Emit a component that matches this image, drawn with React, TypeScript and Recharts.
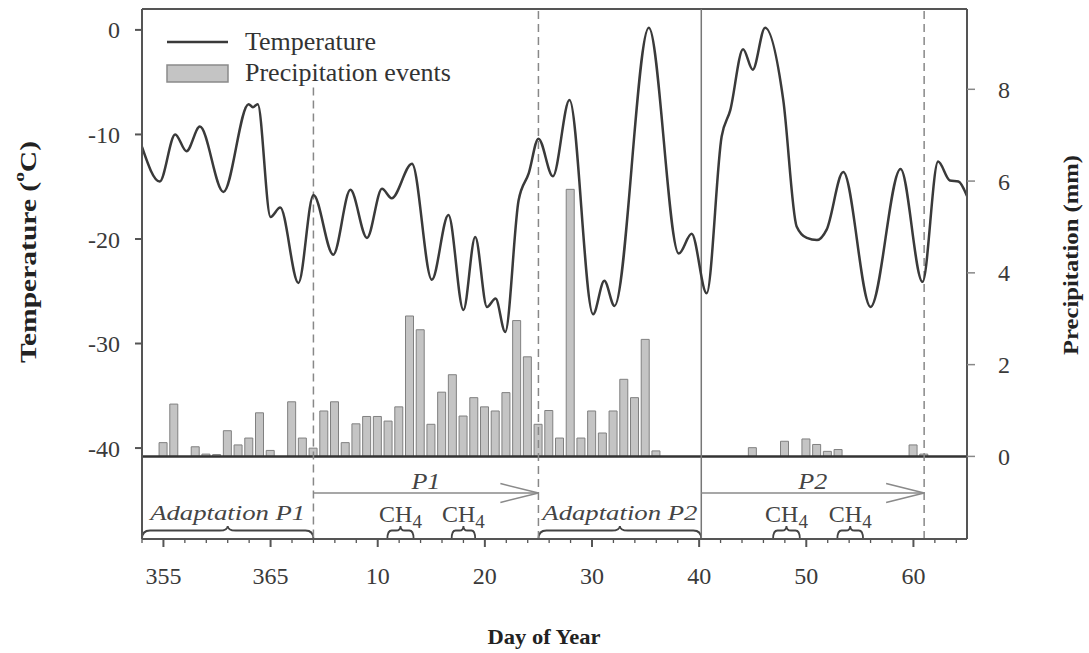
import React from "react";
import {
  ComposedChart, Bar, Line, XAxis, YAxis, Legend,
  ReferenceLine, ReferenceArea, ReferenceDot,
} from "recharts";

// day index keeps counting past 365: 366 = Jan 1, 375 = Jan 10 ...
const tempDays = [
  353.0, 354.65, 356.1, 357.15, 358.4, 360.6, 362.95, 363.35, 363.8, 365.0,
  365.9, 367.6, 369.0, 370.85, 372.45, 374.0, 375.4, 376.3, 378.2, 380.05,
  381.6, 383.0, 384.1, 385.2, 386.0, 386.9, 388.15, 389.1, 390.0, 391.35,
  392.9, 395.1, 396.15, 397.1, 400.3, 403.1, 404.3, 405.7, 407.1, 407.9,
  409.1, 410.0, 411.15, 412.85, 414.1, 415.05, 416.0, 416.9, 418.45, 421.0,
  423.8, 425.85, 427.3, 428.4, 429.2, 430.0,
];
const tempValues = [
  -11.2, -14.5, -10.0, -11.6, -9.25, -15.5, -7.1, -7.4, -7.1, -17.9,
  -17.0, -24.2, -15.8, -21.5, -15.3, -19.9, -15.2, -16.1, -12.8, -23.9,
  -17.7, -26.8, -19.8, -26.5, -25.7, -28.9, -16.3, -13.7, -10.4, -14.0,
  -6.7, -27.2, -24.0, -26.4, 0.2, -21.4, -19.5, -25.2, -10.2, -7.7,
  -1.85, -3.8, 0.2, -6.7, -18.8, -19.9, -20.1, -19.1, -13.6, -26.5,
  -13.3, -24.1, -12.6, -14.4, -14.5, -15.9,
];

const precipDays = [
  355, 356, 358, 359, 360, 361, 362, 363, 364, 365, 367, 368,
  369, 370, 371, 372, 373, 374, 375, 376, 377, 378, 379, 380,
  381, 382, 383, 384, 385, 386, 387, 388, 389, 390, 391, 392,
  393, 394, 395, 396, 397, 398, 399, 400, 401,
  410, 413, 415, 416, 417, 418, 425, 426,
];
const precipValues = [
  0.30, 1.14, 0.21, 0.05, 0.04, 0.56, 0.25, 0.40, 0.95, 0.13, 1.19, 0.40,
  0.18, 0.99, 1.19, 0.30, 0.71, 0.87, 0.87, 0.77, 1.08, 3.06, 2.76, 0.70,
  1.40, 1.78, 0.88, 1.28, 1.08, 0.99, 1.39, 2.96, 2.17, 0.70, 1.00, 0.40,
  5.82, 0.40, 0.99, 0.51, 0.99, 1.68, 1.28, 2.55, 0.12,
  0.19, 0.33, 0.38, 0.26, 0.11, 0.15, 0.25, 0.05,
];

const majorDays = [355, 365, 375, 385, 395, 405, 415, 425];
const majorLabels = ["355", "365", "10", "20", "30", "40", "50", "60"];
const minorDays = [
  353, 357, 359, 361, 363, 367, 369, 371, 373, 377, 379, 381, 383, 387, 389,
  391, 393, 397, 399, 401, 403, 407, 409, 411, 413, 417, 419, 421, 423, 427, 429,
];
const tempTicks = [-40, -30, -20, -10, 0];
const precipTicks = [0, 2, 4, 6, 8];

// experiment layout (day index)
const adaptations = [
  { label: "Adaptation P1", from: 353, to: 369 },
  { label: "Adaptation P2", from: 390, to: 405.2 },
];
const periods = [
  { label: "P1", from: 369, to: 390 },
  { label: "P2", from: 405.2, to: 426 },
];
const ch4Windows = [[375.9, 378.35], [381.9, 384.1], [411.9, 414.4], [417.9, 420.3]];

const dayDomain = [353, 430];
const tempDomain = [-48.7, 2.0];
const precipDomain = [-1.8, 9.75];

const tempData = tempDays.map((d, i) => ({ day: d, temp: tempValues[i] }));
const precipData = precipDays.map((d, i) => ({ day: d, precip: precipValues[i] }));

const SERIF = "'Liberation Serif', 'Times New Roman', serif";
const INK = "#3a3a3a";
const FRAME = "#555";

const DayTick = ({ x, y, payload }: any) => {
  const v = payload.value as number;
  const idx = majorDays.indexOf(v);
  const major = idx >= 0;
  return (
    <g>
      <line x1={x} x2={x} y1={y} y2={y + (major ? 8 : 4)} stroke={FRAME} strokeWidth={major ? 2 : 1.3} />
      {major && (
        <text x={x} y={y + 45} textAnchor="middle" fontSize={24} fill={INK} fontFamily={SERIF}>
          {majorLabels[idx]}
        </text>
      )}
    </g>
  );
};

const TempTitle = ({ viewBox }: any) => {
  const cx = (viewBox?.x ?? 0) + 28;
  const cy = 252;
  return (
    <text x={cx} y={cy} transform={`rotate(-90 ${cx} ${cy})`} textAnchor="middle" dominantBaseline="central"
      fontSize={23} fontWeight="bold" fill="#222" fontFamily={SERIF} textLength={222} lengthAdjust="spacingAndGlyphs">
      <tspan>Temperature (</tspan>
      <tspan dy={-9} fontSize={15}>o</tspan>
      <tspan dy={9}>C)</tspan>
    </text>
  );
};

const PrecipTitle = ({ viewBox }: any) => {
  const cx = (viewBox?.x ?? 967) + 103;
  const cy = 255;
  return (
    <text x={cx} y={cy} transform={`rotate(-90 ${cx} ${cy})`} textAnchor="middle" dominantBaseline="central"
      fontSize={22} fontWeight="bold" fill="#222" fontFamily={SERIF} textLength={200} lengthAdjust="spacingAndGlyphs">
      Precipitation (mm)
    </text>
  );
};

const DayTitle = ({ viewBox }: any) => (
  <text x={(viewBox?.x ?? 142) + 402} y={(viewBox?.y ?? 539) + 105} textAnchor="middle"
    fontSize={21} fontWeight="bold" fill="#222" fontFamily={SERIF} textLength={113} lengthAdjust="spacingAndGlyphs">
    Day of Year
  </text>
);

const LegendBox = ({ payload }: any) => {
  const items = [...(payload || [])].sort((a: any, b: any) => (a.type === "line" ? -1 : b.type === "line" ? 1 : 0));
  return (
    <svg width={330} height={70}>
      {items.map((it: any, i: number) => {
        const cy = 17 + i * 31;
        return (
          <g key={it.value}>
            {it.type === "line" ? (
              <line x1={7} x2={68} y1={cy} y2={cy} stroke={INK} strokeWidth={2.5} />
            ) : (
              <rect x={7} y={cy - 8} width={61} height={17} fill="#c4c4c4" stroke="#8a8a8a" strokeWidth={1.5} />
            )}
            <text x={85} y={cy + 8} fontSize={26} fill="#333" fontFamily={SERIF}>{it.value}</text>
          </g>
        );
      })}
    </svg>
  );
};

const Brace = ({ x, y, width, height }: any) => {
  const x2 = x + width;
  const bot = y + height;
  const mid = x + width / 2;
  const h = y + height * 0.35;
  const r = Math.min(8, width / 6);
  const d = `M${x},${bot} Q${x},${h} ${x + r},${h} L${mid - r},${h} Q${mid},${h} ${mid},${y} ` +
    `Q${mid},${h} ${mid + r},${h} L${x2 - r},${h} Q${x2},${h} ${x2},${bot}`;
  return <path d={d} fill="none" stroke="#444" strokeWidth={1.8} />;
};

const italicLabel = (text: string, size: number, len: number) => ({ cx, cy }: any) => (
  <text x={cx} y={cy} textAnchor="middle" fontSize={size} fontStyle="italic" fill="#444" fontFamily={SERIF}
    textLength={len} lengthAdjust="spacingAndGlyphs">
    {text}
  </text>
);

const ch4Label = ({ cx, cy }: any) => (
  <text x={cx} y={cy} textAnchor="middle" fontSize={24} fill="#444" fontFamily={SERIF}>
    <tspan>CH</tspan>
    <tspan dy={6} fontSize={19}>4</tspan>
  </text>
);

export default function App() {
  return (
    <div style={{ position: "absolute", left: 0, top: 0, width: 1089, height: 653, background: "#fff" }}>
      <ComposedChart width={1089} height={653} data={precipData} margin={{ top: 9, right: 0, bottom: 0, left: 0 }}>
        <XAxis xAxisId="d" dataKey="day" type="number" domain={dayDomain} allowDataOverflow
          ticks={[...majorDays, ...minorDays].sort((a, b) => a - b)} interval={0}
          tick={<DayTick />} tickLine={false} tickSize={0} tickMargin={0}
          axisLine={{ stroke: FRAME, strokeWidth: 2 }} height={114} label={<DayTitle />} />
        <XAxis xAxisId="t" dataKey="day" type="number" domain={dayDomain} allowDataOverflow hide height={0} />
        <YAxis yAxisId="temp" domain={tempDomain} allowDataOverflow ticks={tempTicks} width={142}
          tick={{ fontSize: 24, fill: INK, fontFamily: SERIF }} tickSize={7} tickMargin={15}
          tickLine={{ stroke: FRAME, strokeWidth: 2 }} axisLine={{ stroke: FRAME, strokeWidth: 2 }}
          label={<TempTitle />} />
        <YAxis yAxisId="precip" orientation="right" domain={precipDomain} allowDataOverflow ticks={precipTicks}
          width={122} tick={{ fontSize: 24, fill: INK, fontFamily: SERIF }} tickSize={8} tickMargin={23}
          tickLine={{ stroke: "#888", strokeWidth: 1.5 }} axisLine={{ stroke: FRAME, strokeWidth: 2 }}
          label={<PrecipTitle />} />

        <Legend layout="horizontal" verticalAlign="middle" align="center" content={<LegendBox />}
          wrapperStyle={{ left: 160, top: 25, width: 330, height: 70 }} />

        {/* frame top */}
        <ReferenceLine xAxisId="d" yAxisId="temp" y={tempDomain[1]} stroke={FRAME} strokeWidth={2} />
        {/* precipitation baseline */}
        <ReferenceLine xAxisId="d" yAxisId="precip" y={0} stroke="#333" strokeWidth={2.5} />

        <Bar xAxisId="d" yAxisId="precip" dataKey="precip" name="Precipitation events" barSize={8}
          fill="#c4c4c4" stroke="#808080" strokeWidth={1} isAnimationActive={false} />

        {/* period boundaries */}
        <ReferenceLine xAxisId="d" yAxisId="temp" segment={[{ x: 369, y: -5.5 }, { x: 369, y: tempDomain[0] }]}
          stroke="#888" strokeDasharray="8 5" strokeWidth={1.5} />
        <ReferenceLine xAxisId="d" yAxisId="temp" x={390} stroke="#888" strokeDasharray="8 5" strokeWidth={1.5} />
        <ReferenceLine xAxisId="d" yAxisId="temp" x={405.2} stroke="#777" strokeWidth={1.5} />
        <ReferenceLine xAxisId="d" yAxisId="temp" x={426} stroke="#888" strokeDasharray="8 5" strokeWidth={1.5} />

        <Line xAxisId="t" yAxisId="temp" data={tempData} dataKey="temp" name="Temperature" type="monotone"
          stroke={INK} strokeWidth={2.5} dot={false} isAnimationActive={false} />

        {periods.map((p) => [
          <ReferenceLine key={p.label + "a"} xAxisId="d" yAxisId="temp"
            segment={[{ x: p.from, y: -44.3 }, { x: p.to, y: -44.3 }]} stroke="#8a8a8a" strokeWidth={1.5} />,
          <ReferenceLine key={p.label + "b"} xAxisId="d" yAxisId="temp"
            segment={[{ x: p.to - 3.55, y: -43.4 }, { x: p.to, y: -44.3 }]} stroke="#8a8a8a" strokeWidth={1.5} />,
          <ReferenceLine key={p.label + "c"} xAxisId="d" yAxisId="temp"
            segment={[{ x: p.to - 3.55, y: -45.2 }, { x: p.to, y: -44.3 }]} stroke="#8a8a8a" strokeWidth={1.5} />,
          <ReferenceDot key={p.label + "t"} xAxisId="d" yAxisId="temp" x={(p.from + p.to) / 2} y={-43.9} r={1}
            shape={italicLabel(p.label, 24, 29)} />,
        ])}

        {adaptations.map((a) => [
          <ReferenceArea key={a.label + "b"} xAxisId="d" yAxisId="temp" x1={a.from} x2={a.to} y1={-47.45} y2={tempDomain[0]}
            shape={<Brace />} />,
          <ReferenceDot key={a.label + "t"} xAxisId="d" yAxisId="temp" x={(a.from + a.to) / 2} y={-46.9} r={1}
            shape={italicLabel(a.label, 22, 155)} />,
        ])}

        {ch4Windows.map((w, i) => [
          <ReferenceArea key={"ch4b" + i} xAxisId="d" yAxisId="temp" x1={w[0]} x2={w[1]} y1={-47.45} y2={tempDomain[0]}
            shape={<Brace />} />,
          <ReferenceDot key={"ch4t" + i} xAxisId="d" yAxisId="temp" x={(w[0] + w[1]) / 2} y={-47.05} r={1}
            shape={ch4Label} />,
        ])}
      </ComposedChart>
    </div>
  );
}
